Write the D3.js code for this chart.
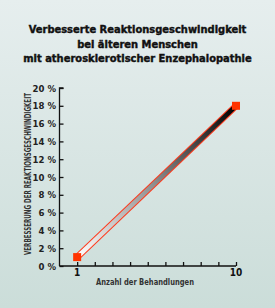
<!DOCTYPE html>
<html>
<head>
<meta charset="utf-8">
<script src="https://cdn.jsdelivr.net/npm/d3@7"></script>
<style>
  body { margin: 0; }
  svg { display: block; }
  text { font-family: "Liberation Sans Narrow", "DejaVu Sans Condensed", "Liberation Sans", sans-serif; font-weight: bold; }
  .title { font-family: "DejaVu Sans Condensed", "Liberation Sans Narrow", sans-serif; font-stretch: condensed; }
</style>
</head>
<body>
<div id="chart"></div>
<script>
var width = 275, height = 308;

// data
var titleLines = ['Verbesserte Reaktionsgeschwindigkeit', 'bei älteren Menschen', 'mit atherosklerotischer Enzephalopathie'];
var treatments = [1, 10];
var improvement = [1, 18];
var yTicks = [0, 2, 4, 6, 8, 10, 12, 14, 16, 18, 20];
var xTicks = [1, 2, 3, 4, 5, 6, 7, 8, 9, 10];
var xLabels = [1, 10];

var points = treatments.map(function(t, i){ return {x: t, y: improvement[i]}; });

var svg = d3.select('#chart').append('svg')
    .attr('width', width)
    .attr('height', height);

var defs = svg.append('defs');
var bg = defs.append('linearGradient').attr('id', 'bg')
    .attr('x1', 0).attr('y1', 0).attr('x2', 0).attr('y2', 1);
bg.append('stop').attr('offset', 0).attr('stop-color', '#e6eeee');
bg.append('stop').attr('offset', 1).attr('stop-color', '#cbddd9');

svg.append('rect').attr('width', width).attr('height', height).attr('fill', 'url(#bg)');

var x = d3.scaleLinear().domain([0, 10]).range([59.5, 236]);
var y = d3.scaleLinear().domain([0, 20]).range([266, 88]);

// title - size it so the first line is about 218px wide
var title = svg.append('g').selectAll('text')
    .data(titleLines)
    .enter()
    .append('text')
    .attr('class', 'title')
    .attr('x', 137.5)
    .attr('y', function(d, i){ return 33 + i * 14.5; })
    .attr('text-anchor', 'middle')
    .attr('font-size', 12)
    .attr('fill', '#111')
    .attr('stroke', '#111')
    .attr('stroke-width', 0.4)
    .text(function(d){ return d; });
var w0 = title.node().getComputedTextLength();
var titleSize = Math.min(14, 12 * 218 / w0);
title.attr('font-size', titleSize);

// axes
var yAxis = svg.append('g')
    .attr('transform', 'translate(' + x(0) + ',0)')
    .call(d3.axisRight(y).tickValues(yTicks).tickSize(4).tickFormat(''));
yAxis.selectAll('line, path').attr('stroke', '#111').attr('stroke-width', 1.3);
yAxis.select('.domain').attr('d', 'M4,' + y(20) + 'H0V' + y(0));

svg.append('g').selectAll('text')
    .data(yTicks)
    .enter()
    .append('text')
    .attr('x', 56)
    .attr('y', function(d){ return y(d) + 3.5; })
    .attr('text-anchor', 'end')
    .attr('font-size', 9.5)
    .attr('fill', '#222')
    .text(function(d){ return d + ' %'; });

var xAxis = svg.append('g')
    .attr('transform', 'translate(0,' + y(0) + ')')
    .call(d3.axisTop(x).tickValues(xTicks).tickSize(4).tickFormat(''));
xAxis.selectAll('line, path').attr('stroke', '#111').attr('stroke-width', 1.3);
xAxis.select('.domain').attr('d', 'M' + x(0) + ',0H' + x(10));

svg.append('g').selectAll('text')
    .data(xLabels)
    .enter()
    .append('text')
    .attr('x', function(d){ return x(d); })
    .attr('y', 276)
    .attr('text-anchor', 'middle')
    .attr('font-size', 10)
    .attr('fill', '#111')
    .text(function(d){ return d; });

svg.append('text')
    .attr('x', 145)
    .attr('y', 285)
    .attr('text-anchor', 'middle')
    .attr('font-size', 9.5)
    .attr('fill', '#333')
    .attr('textLength', 98)
    .attr('lengthAdjust', 'spacingAndGlyphs')
    .text('Anzahl der Behandlungen');

svg.append('text')
    .attr('transform', 'translate(31,174) rotate(-90)')
    .attr('text-anchor', 'middle')
    .attr('font-size', 9)
    .attr('fill', '#333')
    .attr('textLength', 162)
    .attr('lengthAdjust', 'spacingAndGlyphs')
    .text('VERBESSERUNG DER REAKTIONSGESCHWINDIGKEIT');

// band
var grad = defs.append('linearGradient').attr('id', 'band')
    .attr('gradientUnits', 'userSpaceOnUse')
    .attr('x1', x(points[0].x)).attr('y1', y(points[0].y))
    .attr('x2', x(points[1].x)).attr('y2', y(points[1].y));
grad.append('stop').attr('offset', 0).attr('stop-color', '#ffffff');
grad.append('stop').attr('offset', 0.5).attr('stop-color', '#8a8a8a');
grad.append('stop').attr('offset', 1).attr('stop-color', '#000000');

var line = d3.line().x(function(d){ return x(d.x); }).y(function(d){ return y(d.y); });

svg.append('path').datum(points)
    .attr('d', line)
    .attr('fill', 'none')
    .attr('stroke', '#ff3a1c')
    .attr('stroke-width', 6.5);
svg.append('path').datum(points)
    .attr('d', line)
    .attr('fill', 'none')
    .attr('stroke', 'url(#band)')
    .attr('stroke-width', 4.5);

// markers
svg.append('g').selectAll('rect')
    .data(points)
    .enter()
    .append('rect')
    .attr('x', function(d){ return x(d.x) - 4; })
    .attr('y', function(d){ return y(d.y) - 4; })
    .attr('width', 8)
    .attr('height', 8)
    .attr('fill', '#ff3300');
</script>
</body>
</html>
